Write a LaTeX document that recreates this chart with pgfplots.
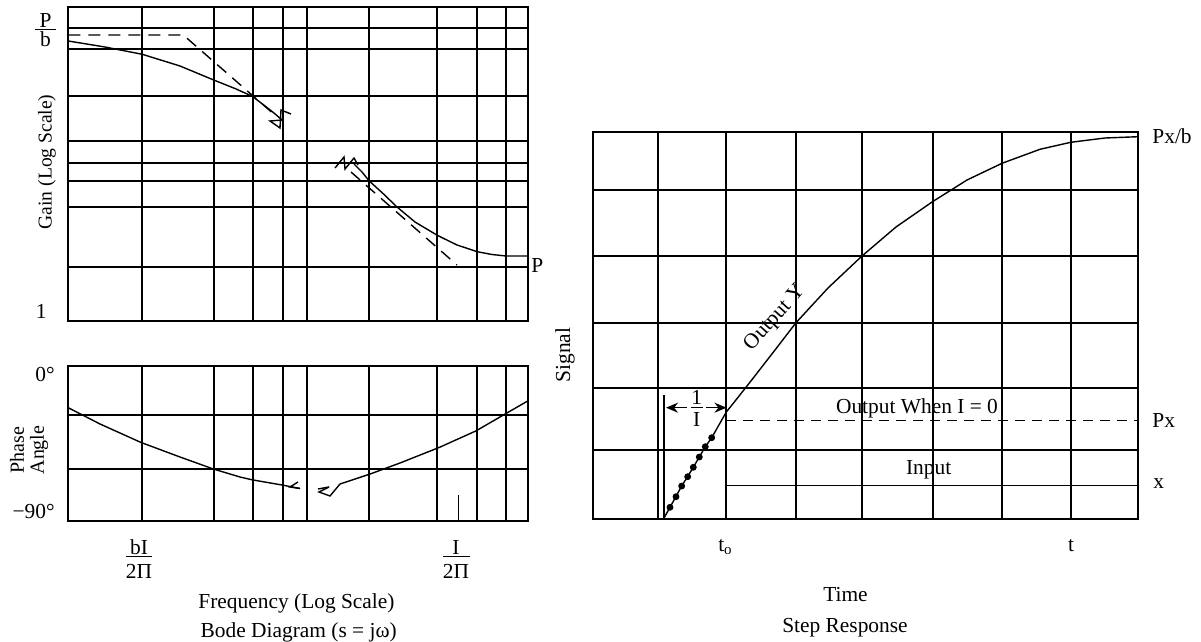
\documentclass[border=0pt]{standalone}
\usepackage{fontspec}
\setmainfont{Liberation Serif}
\usepackage{pgfplots}
\pgfplotsset{compat=1.18}
\usetikzlibrary{arrows.meta}
\begin{document}
\fontsize{10.7}{12.8}\selectfont
\begin{tikzpicture}
\path[use as bounding box] (0pt,0pt) rectangle (600.5pt,-321pt);
\pgfplotsset{
  gridax/.style={scale only axis, y dir=reverse, anchor=center,
    axis line style={line width=1pt, black},
    grid=major, major grid style={line width=1pt, black},
    xticklabels={}, yticklabels={}, major tick length=0pt, tick style={draw=none}},
  crv/.style={line width=0.7pt, black},
}
% ---------------- Gain ----------------
\begin{axis}[gridax, width=229.85pt, height=156.85pt, at={(148.925pt,-82.075pt)},
  xmin=68, xmax=527.7, ymin=7.3, ymax=321,
  xtick={142.3,213.5,252.5,282.5,306.7,369,437.3,477.3,506},
  ytick={28.3,49.3,96,141.3,163.3,181,207.3,266.7}]
\addplot[crv] coordinates {(68.3,41) (105,47) (142.3,54.3) (180,66) (213.7,80) (235,88.5) (252.3,96.3) (265,106) (274,113) (282,120)};
\addplot[crv] coordinates {(282,120) (270,121) (280,128) (281,110) (291,114)};
\addplot[crv] coordinates {(335,168) (344,157) (345,169) (354,158) (358,165)};
\addplot[crv] coordinates {(354,164) (362,172) (369,180.7) (383,193.5) (396.7,206.7) (415,222) (437.3,235.3) (457,245) (477.3,251.7) (492,254.5) (506,256) (527.7,256)};
\addplot[crv, dash pattern=on 6pt off 4pt] coordinates {(68.3,35) (183.3,35) (276,116)};
\addplot[crv, dash pattern=on 6pt off 4pt] coordinates {(351,172) (457,265)};
\end{axis}
% ---------------- Phase ----------------
\begin{axis}[gridax, width=229.85pt, height=77.25pt, at={(148.925pt,-221.625pt)},
  xmin=68, xmax=527.7, ymin=366, ymax=520.5,
  xtick={142.3,213.5,252.5,282.5,306.7,369,437.3,477.3,506},
  ytick={414.7,468.5}]
\addplot[crv] coordinates {(68,407.6) (100,424) (141.1,442.5) (180,457) (213.6,469.1) (240,477) (252,479.8) (282,485) (300,488.5)};
\addplot[crv] coordinates {(300,488.5) (290,487) (298,482)};
\addplot[crv] coordinates {(318,489) (329,487)};
\addplot[crv] coordinates {(329,487) (319,492) (330,496) (340,484) (369.9,474.1) (400,463) (439.1,447.5) (476,430.9) (506.5,413.2) (527.7,401)};
\addplot[line width=0.9pt] coordinates {(458.5,495) (458.5,520.5)};
\end{axis}
% ---------------- Step response ----------------
\begin{axis}[gridax, width=272.8pt, height=193.65pt, at={(432.75pt,-162.675pt)},
  xmin=592.7, xmax=1138.3, ymin=131.7, ymax=519,
  xtick={657.7,726.3,796,862,932.5,1001.7,1070.7},
  ytick={189.7,256,322.7,387.7,450}]
\addplot[crv] coordinates {(664,518) (670,507.3) (681.7,486) (693.3,467.3) (705.3,446.7) (711.7,437.7) (726.3,412) (736.7,399) (751.7,380) (775,350) (796,322.7) (828,288) (862,256) (896,227) (932.5,201.7) (967,180) (1002,163.3) (1040,149.3) (1070.7,142.3) (1105,138) (1138.3,136.7)};
\addplot[only marks, mark=*, mark size=1.5pt, black] coordinates {(670,507.3) (676,496.7) (681.7,486) (687.7,476.7) (693.3,467.3) (699.3,457) (705.3,446.7) (711.7,437.7)};
\addplot[crv, dash pattern=on 5pt off 3.5pt] coordinates {(726.3,420.5) (1138.3,420.5)};
\addplot[line width=0.9pt] coordinates {(726.3,485.5) (1138.3,485.5)};
\addplot[line width=0.9pt] coordinates {(663.8,395) (663.8,519)};
\addplot[line width=0.7pt, -{Stealth[length=6pt,width=5pt]}] coordinates {(687,407.7) (666,407.7)};
\addplot[line width=0.7pt, -{Stealth[length=6pt,width=5pt]}] coordinates {(706,407.7) (726.5,407.7)};
\end{axis}
% ---------------- Text ----------------
\begin{scope}[x=0.5pt,y=-0.5pt]
\node[anchor=base, inner sep=0pt] at (45.5,27.4) {P};
\node[anchor=base, inner sep=0pt] at (45.5,46.7) {b};
\draw[line width=0.5pt] (35,29.6) -- (56,29.6);
\node[anchor=base east, inner sep=0pt] at (47,319) {1};
\node[rotate=90, font=\fontsize{9.8}{11}\selectfont] at (47,162) {Gain (Log Scale)};
\node[anchor=base east, inner sep=0pt] at (55,381) {0°};
\node[anchor=base east, inner sep=0pt] at (55,518.5) {−90°};
\node[rotate=90, align=center, font=\fontsize{10}{10}\selectfont] at (29,450) {Phase\\Angle};
\node[anchor=base, inner sep=0pt] at (139,554) {bI};
\draw[line width=0.5pt] (125.5,556.5) -- (152.4,556.5);
\node[anchor=base, inner sep=0pt] at (139,578.6) {2Π};
\node[anchor=base, inner sep=0pt] at (456,554) {I};
\draw[line width=0.5pt] (443,556.5) -- (469.5,556.5);
\node[anchor=base, inner sep=0pt] at (456,578.6) {2Π};
\node[inner sep=0pt] at (296.5,603) {Frequency (Log Scale)};
\node[inner sep=0pt] at (298.7,632.5) {Bode Diagram (s = jω)};
\node[anchor=west, inner sep=0pt] at (531,265) {P};
% right
\node[rotate=90, inner sep=0pt] at (565,355) {Signal};
\node[anchor=base west, inner sep=0pt] at (1152,143.7) {Px/b};
\node[anchor=base west, inner sep=0pt] at (1152,427) {Px};
\node[anchor=base west, inner sep=0pt] at (1153,488) {x};
\node[anchor=base, inner sep=0pt] at (725.5,551) {t\textsubscript{o}};
\node[anchor=base, inner sep=0pt] at (1071,551) {t};
\node[inner sep=0pt] at (917,408.3) {Output When I = 0};
\node[inner sep=0pt] at (928.7,469.3) {Input};
\node[inner sep=0pt] at (845.5,595) {Time};
\node[inner sep=0pt] at (845,627.3) {Step Response};
\node[rotate=48, inner sep=0pt] at (775,318) {Output Y};
\node[anchor=base, inner sep=0pt] at (696.7,404.5) {1};
\node[anchor=base, inner sep=0pt] at (696.7,426.7) {I};
\draw[line width=0.5pt] (691,407.7) -- (702.5,407.7);
\end{scope}
\end{tikzpicture}
\end{document}
